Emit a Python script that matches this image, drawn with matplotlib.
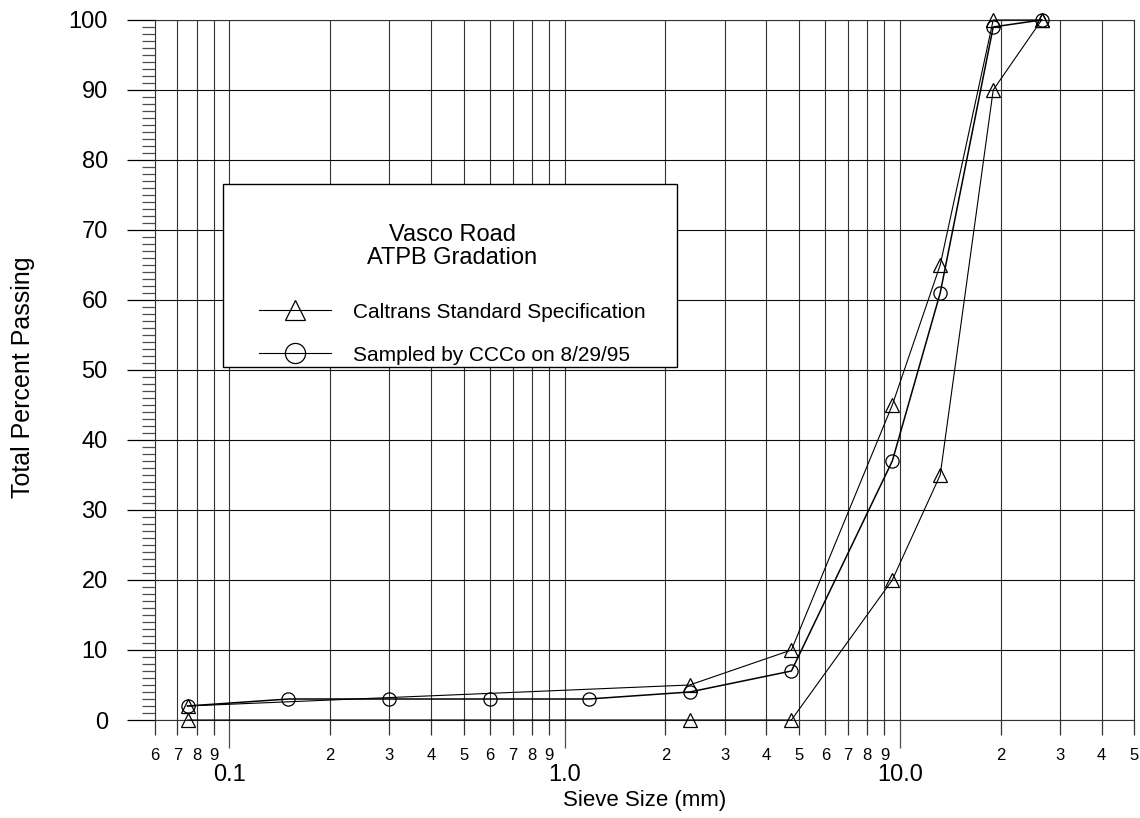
import math
import matplotlib
matplotlib.use("Agg")
import matplotlib.pyplot as plt
from matplotlib.ticker import FixedLocator, FuncFormatter
from matplotlib.lines import Line2D
from matplotlib.patches import Rectangle

plt.rcParams['font.family'] = ['Liberation Sans', 'DejaVu Sans']

# sieve sizes (mm) and percent passing
sieve_mm = [0.075, 0.15, 0.3, 0.6, 1.18, 2.36, 4.75, 9.5, 13.2, 19.0, 26.5]
sampled = [2, 3, 3, 3, 3, 4, 7, 37, 61, 99, 100]

spec_sieve = [0.075, 2.36, 4.75, 9.5, 13.2, 19.0, 26.5]
spec_upper = [2, 5, 10, 45, 65, 100, 100]
spec_lower = [0, 0, 0, 20, 35, 90, 100]

major_x = [0.1, 1.0, 10.0]
major_x_labels = ['0.1', '1.0', '10.0']


def major_fmt(v, pos):
    i = min(range(len(major_x)), key=lambda k: abs(math.log10(major_x[k]) - math.log10(v)))
    return major_x_labels[i]


def minor_fmt(v, pos):
    # leading digit of the value (2..9)
    return str(int(round(v / 10 ** math.floor(math.log10(v) + 1e-9))))


fig = plt.figure(figsize=(11.4, 8.18), dpi=100)
ax = fig.add_axes([0.136, 0.1198, 0.8588, 0.8558])

ax.set_xscale('log')
ax.set_xlim(0.06, 50)
ax.set_ylim(0, 100)

# spec band and sample curve
ax.plot(spec_sieve, spec_upper, color='black', lw=0.8, marker='^', ms=10,
        mfc='none', mew=0.9, clip_on=False, zorder=4)
ax.plot(spec_sieve, spec_lower, color='black', lw=0.8, marker='^', ms=10,
        mfc='none', mew=0.9, clip_on=False, zorder=4)
ax.plot(sieve_mm, sampled, color='black', lw=1.1, marker='o', ms=9.5,
        mfc='none', mew=0.9, clip_on=False, zorder=4)

# x ticks: every 1-9 per decade, gridded
minor_x = [d * 10.0 ** e for e in (-2, -1, 0, 1) for d in range(2, 10)]
minor_x = [v for v in minor_x if 0.06 <= v <= 50.5]
ax.xaxis.set_major_locator(FixedLocator(major_x))
ax.xaxis.set_minor_locator(FixedLocator(minor_x))
ax.xaxis.set_major_formatter(FuncFormatter(major_fmt))
ax.xaxis.set_minor_formatter(FuncFormatter(minor_fmt))
ax.tick_params(axis='x', which='major', length=20, width=0.9, color='0.3',
               labelsize=17, pad=12)
ax.tick_params(axis='x', which='minor', length=11, width=0.9, color='0.2',
               labelsize=12, pad=9)

# y ticks
ax.set_yticks(range(0, 101, 10))
ax.set_yticks(range(0, 101, 1), minor=True)
ax.tick_params(axis='y', which='major', length=20, width=0.9, color='black',
               labelsize=17, pad=14)
ax.tick_params(axis='y', which='minor', length=9.5, width=0.9, color='0.3')

ax.grid(which='both', axis='x', color='0.2', lw=0.8)
ax.grid(which='major', axis='y', color='0.05', lw=0.8)
ax.set_axisbelow(True)
for s in ax.spines.values():
    s.set_linewidth(0.8)
    s.set_color('0.2')

ax.set_xlabel('Sieve Size (mm)', fontsize=16, va='top')
ax.xaxis.set_label_coords(0.5, -0.100)
ax.set_ylabel('Total Percent Passing', fontsize=18, va='center')
ax.yaxis.set_label_coords(-0.135, 0.49)

# legend box
ax.add_patch(Rectangle((0.069, 0.504), 0.464, 0.262, transform=ax.transAxes,
                       facecolor='white', edgecolor='black', lw=1.0, zorder=5))
handles = [
    Line2D([], [], color='black', lw=0.8, marker='^', ms=14.5, mfc='none', mew=0.9),
    Line2D([], [], color='black', lw=0.8, marker='o', ms=14.5, mfc='none', mew=0.9),
]
leg = ax.legend(handles, ['Caltrans Standard Specification', 'Sampled by CCCo on 8/29/95'],
                title='Vasco Road\nATPB Gradation', title_fontsize=17, fontsize=15,
                frameon=False, loc='upper left', bbox_to_anchor=(0.087, 0.736),
                handlelength=3.45, handletextpad=1.05, labelspacing=1.15)
leg.get_title().set_multialignment('center')
leg.get_title().set_linespacing(1.1)
leg._legend_box.sep = 24
leg.set_zorder(6)

fig.savefig('out.png', dpi=100)
